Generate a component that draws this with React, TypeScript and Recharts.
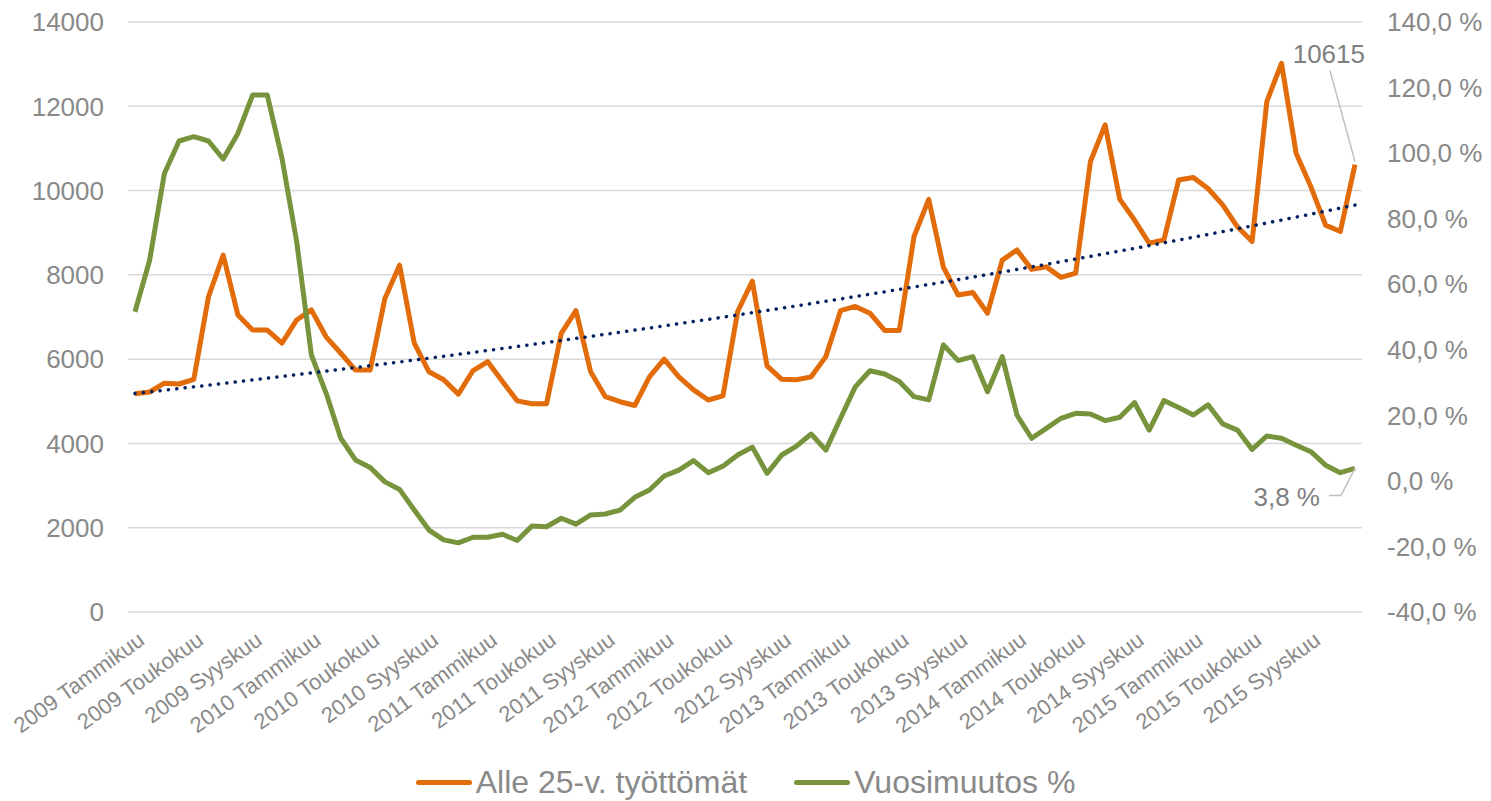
import React from 'react';
import { LineChart, Line, XAxis, YAxis, CartesianGrid, Legend, LabelList } from 'recharts';

const years = ['2009', '2010', '2011', '2012', '2013', '2014', '2015'];
const months = [
  'Tammikuu', 'Helmikuu', 'Maaliskuu', 'Huhtikuu', 'Toukokuu', 'Kesäkuu',
  'Heinäkuu', 'Elokuu', 'Syyskuu', 'Lokakuu', 'Marraskuu', 'Joulukuu',
];

// Alle 25-v. työttömät, kuukausittain 2009-2015
const unemployed = [
  5180, 5220, 5430, 5410, 5520, 7480, 8470, 7050, 6690, 6690, 6380, 6930,
  7170, 6530, 6140, 5740, 5740, 7440, 8230, 6380, 5700, 5510, 5170, 5730,
  5940, 5470, 5010, 4940, 4940, 6610, 7150, 5700, 5110, 4990, 4900, 5580,
  6000, 5580, 5270, 5030, 5130, 7130, 7850, 5840, 5520, 5510, 5580, 6060,
  7150, 7250, 7090, 6680, 6680, 8910, 9790, 8180, 7520, 7580, 7090, 8350,
  8590, 8130, 8190, 7940, 8040, 10690, 11560, 9790, 9300, 8750, 8830, 10250,
  10310, 10050, 9660, 9140, 8790, 12110, 13020, 10880, 10090, 9180, 9030, 10615,
];

// Vuosimuutos %
const yearlyChange = [
  51.6, 67.4, 93.8, 103.7, 105.0, 103.7, 98.2, 106.0, 117.7, 117.7, 98.4, 73.0,
  38.4, 26.8, 13.0, 6.4, 4.1, -0.3, -2.6, -8.9, -15.0, -18.0, -18.9, -17.2,
  -17.2, -16.3, -18.2, -13.8, -14.0, -11.4, -13.2, -10.4, -10.1, -8.9, -5.0, -2.8,
  1.5, 3.3, 6.2, 2.5, 4.5, 7.9, 10.3, 2.3, 7.9, 10.6, 14.3, 9.4,
  19.1, 28.7, 33.6, 32.6, 30.3, 25.7, 24.7, 41.5, 36.7, 37.9, 27.2, 37.9,
  20.1, 13.0, 16.0, 19.1, 20.6, 20.4, 18.4, 19.4, 23.9, 15.5, 24.5, 22.4,
  20.1, 23.2, 17.4, 15.5, 9.6, 13.7, 13.0, 10.9, 8.9, 4.8, 2.5, 3.8,
];

const leftTicks = [0, 2000, 4000, 6000, 8000, 10000, 12000, 14000];
const rightTicks = [-40, -20, 0, 20, 40, 60, 80, 100, 120, 140];

// exponential trendline (like Excel's), fitted to the unemployed series
function expTrend(values: number[]) {
  const n = values.length;
  let sx = 0, sy = 0, sxx = 0, sxy = 0;
  values.forEach((v, i) => {
    const x = i + 1;
    const ly = Math.log(v);
    sx += x; sy += ly; sxx += x * x; sxy += x * ly;
  });
  const b = (n * sxy - sx * sy) / (n * sxx - sx * sx);
  const a = (sy - b * sx) / n;
  return values.map((_, i) => Math.exp(a + b * (i + 1)));
}

const trend = expTrend(unemployed);
const categories = years.flatMap((y) => months.map((m) => `${y} ${m}`));
const data = categories.map((month, i) => ({
  month,
  unemployed: unemployed[i],
  change: yearlyChange[i],
  trend: trend[i],
}));

const ORANGE = '#E26B0A';
const GREEN = '#77933C';
const NAVY = '#002060';
const TEXT = '#898989';
const FONT = '"Liberation Sans", Arial, sans-serif';
const LAST = data.length - 1;

const MonthTick = ({ x, y, payload }: any) => {
  const tx = x + 11;
  const ty = y + 31;
  return (
    <text x={tx} y={ty} textAnchor="end" fontSize={22} fill={TEXT} fontFamily={FONT}
      transform={`rotate(-36, ${tx}, ${ty})`}>
      {payload.value}
    </text>
  );
};

const pct = (v: number) => `${v.toFixed(1).replace('.', ',')} %`;

const LastUnemployedLabel = (props: any) => {
  const { x, y, index, value } = props;
  if (index !== LAST) return null;
  return (
    <g>
      <line x1={x - 25} y1={y - 94} x2={x} y2={y - 3} stroke="#BFBFBF" strokeWidth={1.5} />
      <text x={x + 10} y={y - 102} textAnchor="end" fontSize={26} fill="#7F7F7F" fontFamily={FONT}>
        {value}
      </text>
    </g>
  );
};

const LastChangeLabel = (props: any) => {
  const { x, y, index, value } = props;
  if (index !== LAST) return null;
  return (
    <g>
      <polyline points={`${x - 26},${y + 27} ${x - 14},${y + 27} ${x},${y}`} fill="none"
        stroke="#BFBFBF" strokeWidth={1.5} />
      <text x={x - 35} y={y + 38} textAnchor="end" fontSize={26} fill="#7F7F7F" fontFamily={FONT}>
        {pct(value)}
      </text>
    </g>
  );
};

const renderLegend = ({ payload }: any) => (
  <div style={{ display: 'flex', justifyContent: 'center', alignItems: 'center', fontFamily: FONT }}>
    {(payload || [])
      .filter((item: any) => item.dataKey !== 'trend' && item.type !== 'none')
      .map((item: any, i: number) => (
        <div key={item.value} style={{ display: 'flex', alignItems: 'center', marginLeft: i > 0 ? 47 : 0 }}>
          <div style={{ width: 56, height: 5, borderRadius: 3, background: item.color, marginRight: 4 }} />
          <span style={{ fontSize: 32, lineHeight: '32px', color: TEXT }}>{item.value}</span>
        </div>
      ))}
  </div>
);

export default function App() {
  return (
    <div style={{ position: 'absolute', left: 0, top: 0, width: 1491, height: 801, background: '#fff' }}>
      <LineChart width={1491} height={801} data={data} margin={{ top: 22, right: 0, left: 0, bottom: 0 }}>
        <CartesianGrid yAxisId="left" vertical={false} stroke="#D9D9D9" strokeWidth={1.5} />
        <XAxis dataKey="month" interval={3} height={189} padding={{ left: 7, right: 7 }}
          axisLine={false} tickLine={false} tickSize={0} tickMargin={0} tick={<MonthTick />} />
        <YAxis yAxisId="left" width={128} domain={[0, 14000]} ticks={leftTicks}
          axisLine={false} tickLine={false} tickSize={0} tickMargin={24}
          tick={{ fontSize: 26, fill: TEXT, fontFamily: FONT }} />
        <YAxis yAxisId="right" orientation="right" width={129} domain={[-40, 140]} ticks={rightTicks}
          axisLine={false} tickLine={false} tickSize={0} tickMargin={25} tickFormatter={pct}
          tick={{ fontSize: 26, fill: TEXT, fontFamily: FONT, textAnchor: 'start' }} />
        <Legend layout="horizontal" verticalAlign="middle" align="center" content={renderLegend}
          wrapperStyle={{ top: 766, left: 0, width: 1491 }} />
        <Line yAxisId="left" type="linear" dataKey="unemployed" name="Alle 25-v. työttömät"
          stroke={ORANGE} strokeWidth={5} dot={false} activeDot={false} isAnimationActive={false}
          strokeLinejoin="round">
          <LabelList dataKey="unemployed" content={<LastUnemployedLabel />} />
        </Line>
        <Line yAxisId="right" type="linear" dataKey="change" name="Vuosimuutos %"
          stroke={GREEN} strokeWidth={5} dot={false} activeDot={false} isAnimationActive={false}
          strokeLinejoin="round">
          <LabelList dataKey="change" content={<LastChangeLabel />} />
        </Line>
        <Line yAxisId="left" type="linear" dataKey="trend" legendType="none" stroke={NAVY}
          strokeWidth={3.5} strokeDasharray="0.1 8.3" strokeLinecap="round" dot={false}
          activeDot={false} isAnimationActive={false} />
      </LineChart>
    </div>
  );
}
